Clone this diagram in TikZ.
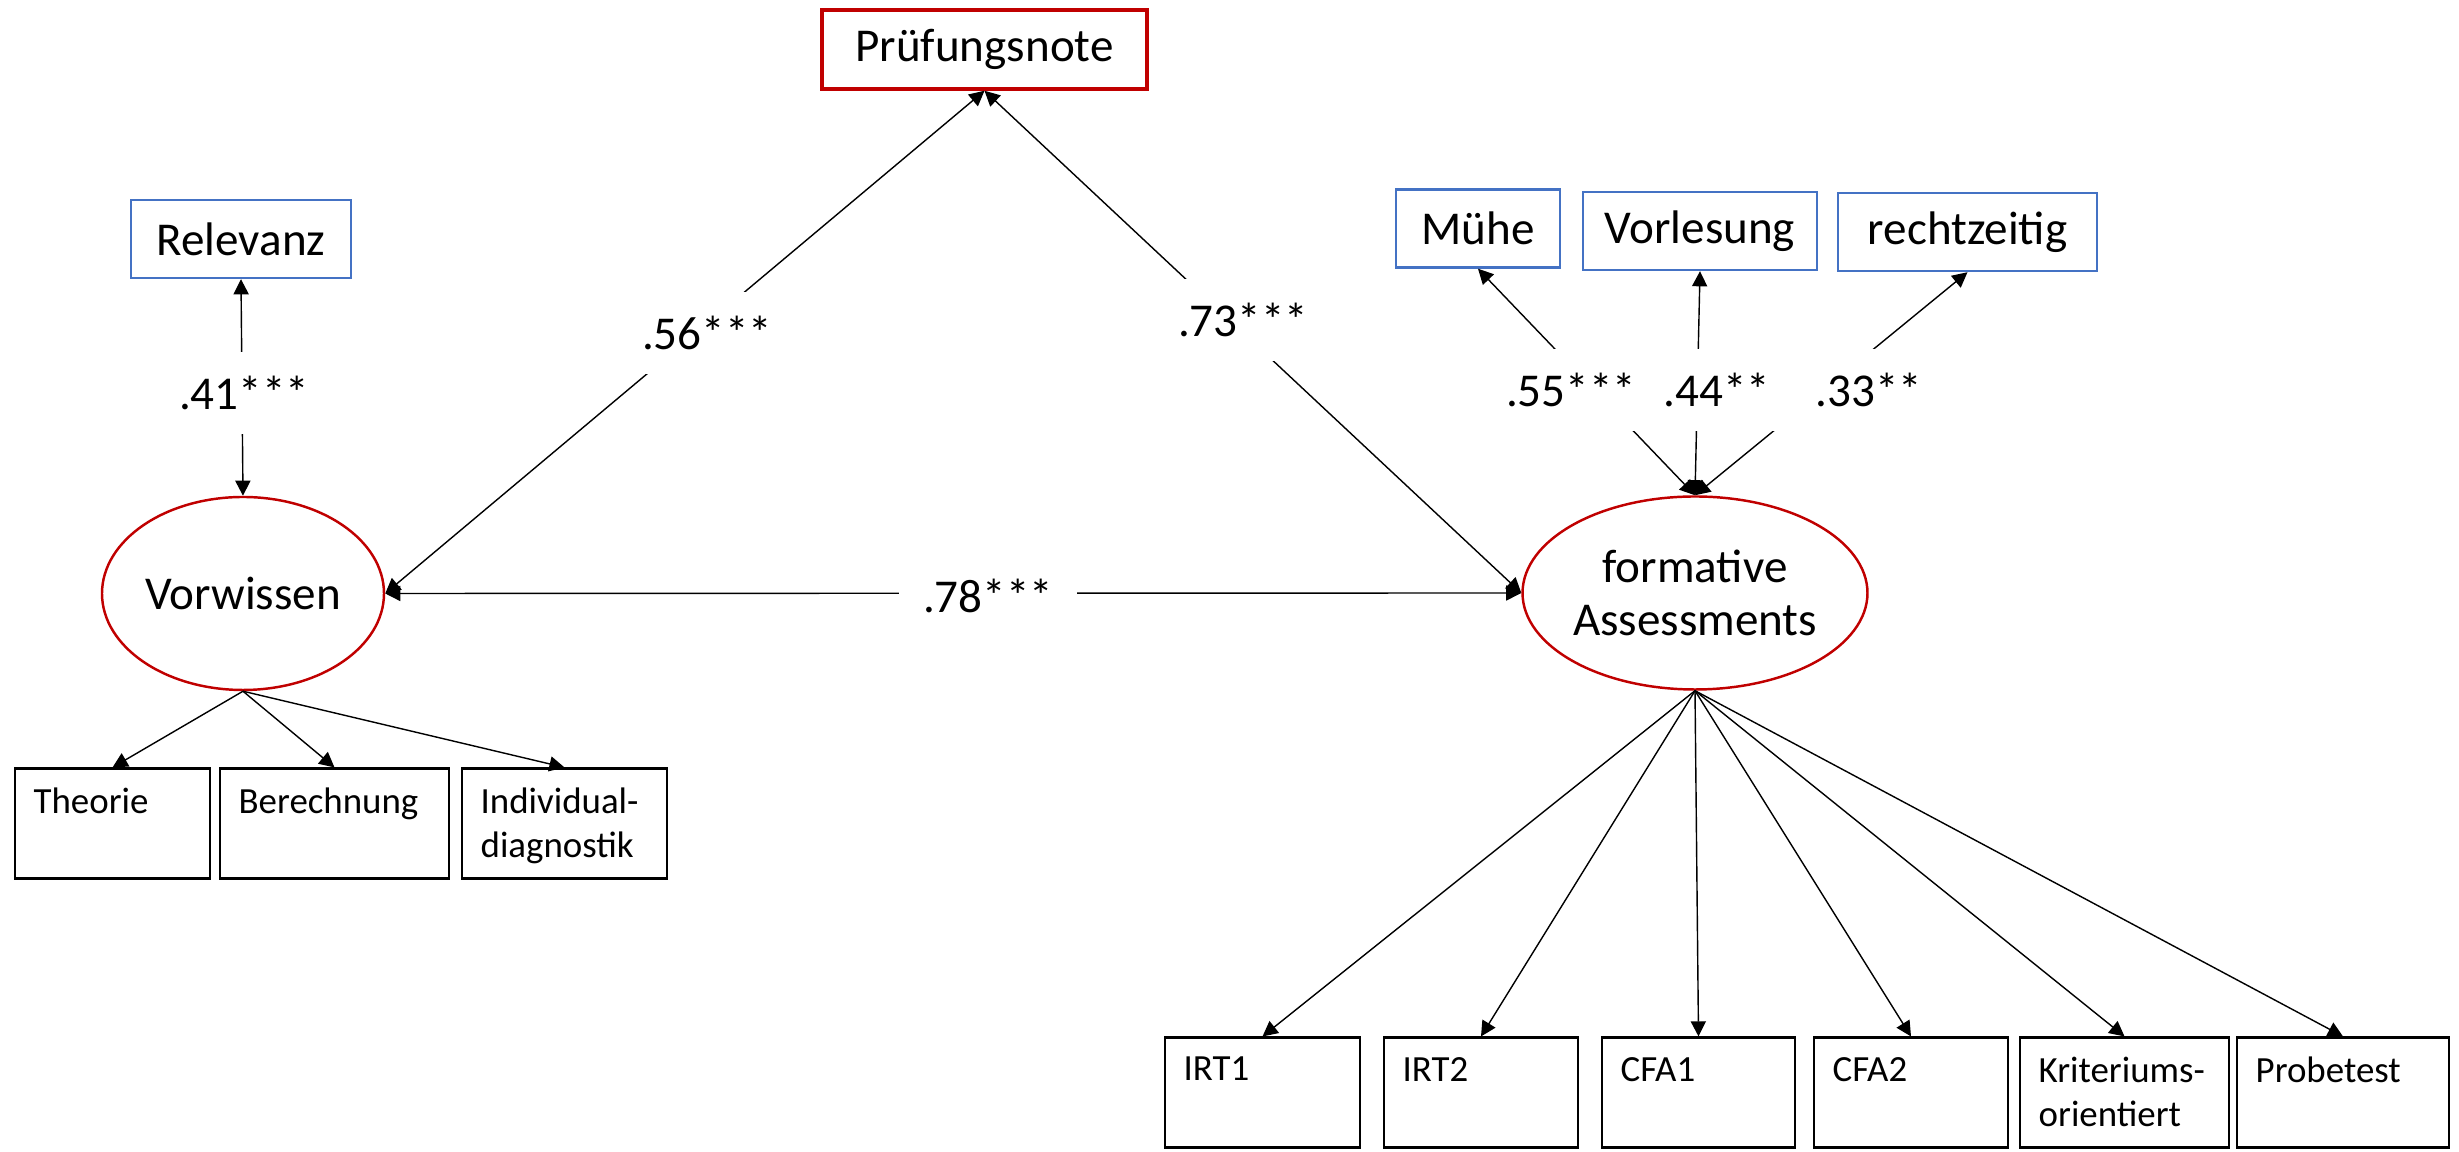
\documentclass[tikz,border=0pt]{standalone}
\usepackage{fontspec}
\setmainfont{Carlito}
\definecolor{SEMred}{HTML}{C00000}
\definecolor{SEMblue}{HTML}{4472C4}
\usetikzlibrary{arrows.meta, positioning, shapes.geometric}

\tikzset{
   bigfont/.style={font=\fontsize{13.4}{15.2}\selectfont},
   latent/.style={ellipse, draw=SEMred, line width=0.7pt, inner sep=0pt,
      minimum width=2.90cm, minimum height=1.93cm, align=center, bigfont},
   covariate/.style={draw=SEMblue, line width=0.7pt, inner sep=0pt,
      minimum height=0.78cm, bigfont},
   leafbox/.style={draw, line width=0.6pt, inner sep=0pt, minimum height=1.10cm},
   leaftext/.style={anchor=north west, inner sep=0pt, xshift=0.19cm, yshift=-0.20cm,
      align=left, font=\fontsize{10.5}{12.5}\selectfont},
   coef/.style={fill=white, inner sep=0.24cm, bigfont}
}

\begin{document}
\begin{tikzpicture}[>={Triangle[length=4.3pt, width=4.3pt]}, line width=0.4pt]
            \useasboundingbox (0,0) rectangle (24.59,11.52);
            % Outcome
            \node[draw=SEMred, line width=1pt, inner sep=0pt, minimum width=3.25cm,
               minimum height=0.79cm, bigfont] (pruef) at (9.845,11.025) {Prüfungsnote};
            % Latent factors
            \node[latent, minimum width=2.82cm] (vorw) at (2.43,5.585) {Vorwissen};
            \node[latent] (fa) at (16.95,5.59) {formative\\Assessments};
            % Covariates (blue boxes)
            \node[covariate, minimum width=2.20cm] (relev) at (2.41,9.13) {Relevanz};
            \node[covariate, minimum width=1.64cm] (muehe) at (14.78,9.235) {Mühe};
            \node[covariate, minimum width=2.34cm] (vorl) at (17.00,9.21) {Vorlesung};
            \node[covariate, minimum width=2.59cm] (recht) at (19.675,9.20) {rechtzeitig};
            % Indicators of Vorwissen
            \node[leafbox, minimum width=1.95cm, label={[leaftext]north west:Theorie}] (theo) at (1.125,3.285) {};
            \node[leafbox, minimum width=2.29cm, label={[leaftext]north west:Berechnung}] (berech) at (3.345,3.285) {};
            \node[leafbox, minimum width=2.05cm, label={[leaftext]north west:{Individual-\\diagnostik}}] (indiv) at (5.645,3.285) {};
            % Indicators of formative Assessments
            \node[leafbox, minimum width=1.95cm, label={[leaftext]north west:IRT1}] (irt1) at (12.625,0.595) {};
            \node[leafbox, minimum width=1.94cm, label={[leaftext]north west:IRT2}] (irt2) at (14.81,0.595) {};
            \node[leafbox, minimum width=1.93cm, label={[leaftext]north west:CFA1}] (cfa1) at (16.985,0.595) {};
            \node[leafbox, minimum width=1.94cm, label={[leaftext]north west:CFA2}] (cfa2) at (19.11,0.595) {};
            \node[leafbox, minimum width=2.09cm, label={[leaftext]north west:{Kriteriums-\\orientiert}}] (krit) at (21.245,0.595) {};
            \node[leafbox, minimum width=2.12cm, label={[leaftext]north west:Probetest}] (probe) at (23.43,0.595) {};
            % Paths
            \draw[<->] (relev.south) -- (vorw.north);
            \draw[<->] (vorw.east) -- (pruef.south);
            \draw[<->] (fa.west) -- (pruef.south);
            \draw[<->] (vorw.east) -- (fa.west);
            \draw[<->] (muehe.south) -- (fa.north);
            \draw[<->] (vorl.south) -- (fa.north);
            \draw[<->] (recht.south) -- (fa.north);
            % Loadings
            \foreach \leaf in {theo, berech, indiv}
               \draw[->] (vorw.south) -- (\leaf.north);
            \foreach \leaf in {irt1, irt2, cfa1, cfa2, krit, probe}
               \draw[->] (fa.south) -- (\leaf.north);
            % Coefficients
            \node[coef] (c41) at (2.44,7.59) {.41***};
            \node[coef] (c56) at (7.07,8.19) {.56***};
            \node[coef] (c73) at (12.43,8.32) {.73***};
            \node[coef] (c78) at (9.88,5.565) {.78***};
            \node[coef] (c55) at (15.71,7.62) {.55***};
            \node[coef] (c44) at (17.17,7.62) {.44**};
            \node[coef] (c33) at (18.69,7.62) {.33**};
\end{tikzpicture}
\end{document}
